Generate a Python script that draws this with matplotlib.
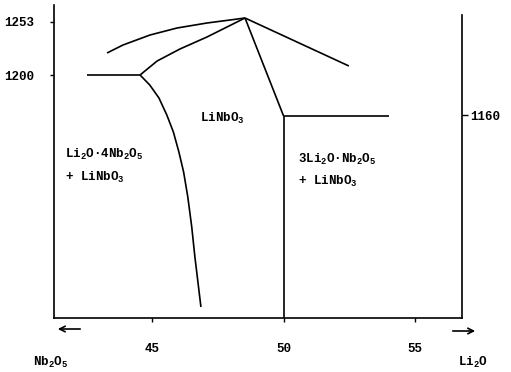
import matplotlib.pyplot as plt

plt.rcParams["font.family"] = ["Liberation Mono", "DejaVu Sans Mono"]
plt.rcParams["font.weight"] = "bold"
plt.rcParams["mathtext.default"] = "regular"

# liquidus, Nb2O5-rich side
liq_left_x = [43.27, 43.88, 44.91, 45.94, 47.08, 47.96, 48.53]
liq_left_t = [1222, 1230, 1240, 1247, 1252, 1255, 1257]
# liquidus, Li2O-rich side
liq_right_x = [48.53, 52.49]
liq_right_t = [1257, 1209]
# solidus lines from the peak
sol_left_x = [44.53, 45.18, 46.05, 47.08, 48.53]
sol_left_t = [1200, 1214, 1226, 1238, 1257]
sol_right_x = [48.53, 50.0]
sol_right_t = [1257, 1159]
# solvus, Nb2O5-rich side
solvus_x = [44.53, 44.90, 45.25, 45.55, 45.80, 46.01, 46.19, 46.35, 46.50, 46.62, 46.74, 46.85]
solvus_t = [1200, 1190, 1177, 1160, 1143, 1123, 1103, 1078, 1048, 1018, 992, 968]
# eutectic / peritectic horizontals
eut_x = [42.5, 44.53]
eut_t = [1200, 1200]
per_x = [50.0, 54.0]
per_t = [1159, 1159]
# stoichiometric line
stoich_x = [50.0, 50.0]
stoich_t = [1159, 957]

x_ticks = [45, 50, 55]
left_ticks = [1200, 1253]
right_ticks = [1160]

fig = plt.figure(figsize=(5.11, 3.72), dpi=100)
ax = fig.add_axes([54 / 511, 54 / 372, 408 / 511, 313 / 372])
ax.set_xlim(41.25, 56.8)
ax.set_ylim(957, 1270)

lw = 1.2
for xs, ts in [(liq_left_x, liq_left_t), (liq_right_x, liq_right_t),
               (sol_left_x, sol_left_t), (sol_right_x, sol_right_t),
               (solvus_x, solvus_t), (eut_x, eut_t), (per_x, per_t),
               (stoich_x, stoich_t)]:
    ax.plot(xs, ts, color="black", lw=lw, solid_capstyle="butt", solid_joinstyle="round")

for s in ["left", "bottom", "right"]:
    ax.spines[s].set_linewidth(lw)
ax.spines["top"].set_visible(False)
ax.spines["right"].set_bounds(957, 1260)

ax.set_xticks(x_ticks)
ax.set_xticklabels([str(v) for v in x_ticks])
ax.set_yticks(left_ticks)
ax.set_yticklabels([str(v) for v in left_ticks])
ax.tick_params(axis="x", direction="out", length=3, width=1, pad=15, labelsize=9)
ax.tick_params(axis="y", direction="out", length=3, width=1, pad=11, labelsize=9)

ax2 = ax.twinx()
ax2.set_ylim(ax.get_ylim())
for s in ax2.spines.values():
    s.set_visible(False)
ax2.set_yticks(right_ticks)
ax2.set_yticklabels([str(v) for v in right_ticks])
ax2.tick_params(axis="y", direction="out", length=4, width=1, pad=2, labelsize=9)

fs = 9
ax.text(41.67, 1121, "Li$_2$O·4Nb$_2$O$_5$", fontsize=fs, va="center")
ax.text(41.67, 1098, "+ LiNbO$_3$", fontsize=fs, va="center")
ax.text(46.81, 1157, "LiNbO$_3$", fontsize=fs, va="center")
ax.text(50.55, 1116, "3Li$_2$O·Nb$_2$O$_5$", fontsize=fs, va="center")
ax.text(50.55, 1094, "+ LiNbO$_3$", fontsize=fs, va="center")

arrow = dict(arrowstyle="->", color="black", lw=1.2)
ax.annotate("", xy=(55, 43), xytext=(83, 43), xycoords="figure pixels",
            textcoords="figure pixels", arrowprops=arrow)
ax.annotate("", xy=(478, 41), xytext=(450, 41), xycoords="figure pixels",
            textcoords="figure pixels", arrowprops=arrow)
fig.text(51 / 511, 10 / 372, "Nb$_2$O$_5$", fontsize=fs, ha="center", va="center")
fig.text(473 / 511, 10 / 372, "Li$_2$O", fontsize=fs, ha="center", va="center")

fig.savefig("out.png", dpi=100)
plt.close(fig)
